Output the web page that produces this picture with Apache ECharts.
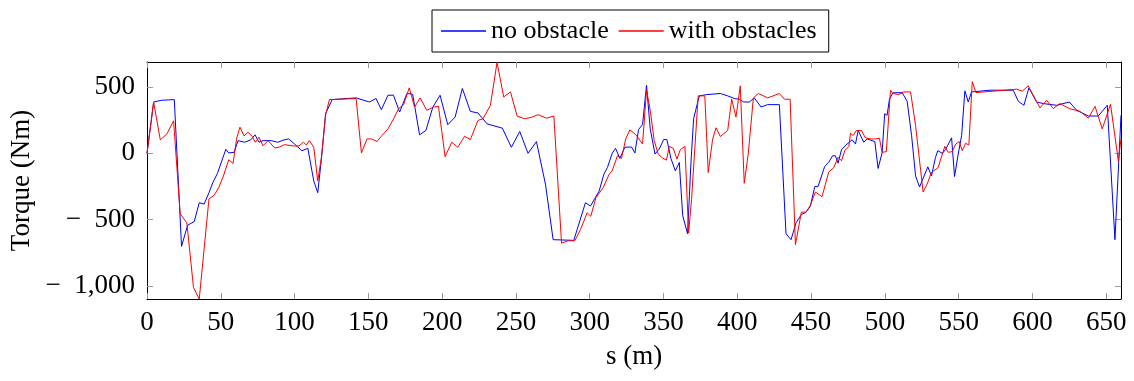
<!DOCTYPE html>
<html><head><meta charset="utf-8">
<script src="https://cdn.jsdelivr.net/npm/echarts@6/dist/echarts.min.js"></script>
<style>html,body{margin:0;padding:0;background:#fff}#c{width:1134px;height:381px}</style>
</head><body><div id="c"></div>
<script>
const xTicks = [0,50,100,150,200,250,300,350,400,450,500,550,600,650];
const yTicks = [-1000,-500,0,500];
const seriesNames = ['no obstacle','with obstacles'];

const noObstacleS = [0,4.5,10,18.5,23.4,27.5,32,35.4,38.7,42,44.8,47.7,53.4,55.4,59,61.7,66.2,70.3,73.2,75.9,78.6,84.2,88.7,92.1,95.9,100,105,109,113,115.7,118.2,121,125.5,141.7,146.9,150.7,155.2,158.8,163.3,167,171.2,173.9,176.1,180,184.7,189,193.7,198.6,203.8,208.8,213.7,219.1,224.3,230.4,240.8,246.9,252.6,258.2,263.9,270,275.2,289.2,297.1,300.5,306.4,309.6,312,315.2,317.5,320.4,323.8,328.3,330.6,333.1,335.8,338.5,341,344.2,347.1,350.1,352.3,355,358,360.7,363,366.3,368.6,370.4,374.2,379.4,388.5,393.5,398,401.4,404.3,408.2,411.5,416.1,420.5,428.5,433,436.4,439.8,443.4,446.6,449.5,452.5,454.7,459.2,461.9,464.6,466.4,468.3,470.6,474.4,477.8,480.1,481.9,485.7,488,493.2,495.4,498.1,499.9,501.5,503.1,505.4,511.7,515.1,518.1,520.8,523.5,529.1,531.6,534.3,535.9,538.9,541.1,545.2,547.2,549.5,552,554.2,556.5,558.7,571.2,587,590.4,594.2,597.6,602.8,607.3,616.4,625,630,637.9,644.6,650.7,655.9,660];
const noObstacleT = [0,388,401,406,-703,-543,-515,-373,-383,-297,-216,-152,30,3,8,96,84,102,140,84,96,96,84,99,109,71,20,38,-208,-297,-43,300,406,419,401,388,414,330,439,439,312,388,452,447,140,173,350,439,216,274,490,317,305,223,190,46,165,0,89,-233,-652,-657,-373,-398,-284,-157,-107,0,38,-38,46,48,3,180,218,515,185,-5,33,104,104,-38,-132,-69,-470,-607,-69,261,434,444,452,434,414,409,388,388,419,350,368,368,-607,-652,-525,-462,-444,-398,-251,-251,-99,-69,-18,-18,-74,28,71,102,71,173,84,109,89,-114,3,300,287,409,457,459,393,135,-170,-254,-102,-170,-30,20,0,28,117,-175,-18,135,472,388,464,477,477,393,363,495,388,376,363,388,325,282,282,363,-652,287];

const withObstaclesS = [0,4.5,9,13.5,18,22.5,27,31.5,35.4,42,45.5,48.6,51.8,55.4,58.3,60.8,63,65.8,68.5,71.2,73.4,75.9,78.6,82,86.5,90,93.2,98.9,103,106,108,110,113,115.7,118.2,121,123.6,141.7,145.3,149.1,152.1,155.9,159.2,163.3,167.1,170.5,173.9,177.7,181.3,185.1,189.6,194.2,197.5,202,206.5,210.6,215.2,219.1,224.3,227.7,232.7,237.2,241.7,246.3,250.8,256,260.5,265,270.7,275.7,280.9,285.4,289.9,293.7,298.3,300.7,304.2,309.1,313.2,315.2,318.8,321.5,324.4,327.2,328.3,331.3,335.8,338.5,341,343.7,346.4,349.4,352,353.9,356.6,359.1,361.4,364.5,367,369,373.5,378,380.3,383.3,385.6,388.5,393.5,396.2,399.1,402,404.7,407.4,410.9,414.3,420.6,428.5,431.9,435.8,439.4,443.4,446.6,449.5,452.9,457.4,462,465.4,468.3,470.6,472.8,475.6,476.7,478.5,480.7,484.1,486.8,490.2,493.6,496.3,498.1,501,503.8,505.4,509.4,512.8,517.4,520.8,525.9,528.6,531.5,536.1,540.6,542.9,545.6,548.1,550.4,552.4,554.7,556.9,559.2,561.7,587,589.2,593.1,597.1,605.1,609.6,614.1,618.6,625,632.2,637.9,642.4,647.3,652.9,658.2,660];
const withObstaclesT = [0,388,102,147,246,-457,-525,-1013,-1101,-343,-317,-259,-170,-48,-76,114,198,132,160,129,84,122,58,96,41,48,66,56,56,84,63,96,46,-208,-30,287,406,414,3,109,109,89,135,185,261,338,368,495,350,419,325,350,355,-25,84,46,129,104,249,261,363,688,426,464,282,261,272,292,266,282,-678,-660,-660,-576,-449,-475,-335,-259,-157,-132,-18,-38,109,178,193,140,71,477,325,96,-5,-36,-51,53,38,-43,28,53,-602,-348,434,434,-145,109,193,127,173,409,274,510,-226,-5,419,452,419,452,409,409,-690,-444,-444,-393,-292,-327,-140,-107,-30,-56,20,53,152,135,173,173,117,109,109,114,8,13,477,452,444,464,464,211,-292,-233,-145,-107,53,8,13,71,89,20,76,63,541,459,482,485,470,510,343,401,338,376,338,317,266,355,185,371,-56,109];

const zip = (a, b) => a.map((v, i) => [v, b[i]]);
const FONT = "'Liberation Serif','Times New Roman',serif";
const FS = 27;
const fmtY = v => {
  const a = Math.abs(v);
  const s = a >= 1000 ? Math.floor(a/1000) + ',' + String(a%1000).padStart(3,'0') : String(a);
  return (v < 0 ? '\u2212\u2002' : '') + s;
};
const tickStyle = {show:true, inside:true, length:6, lineStyle:{color:'#9a9a9a', width:1}};
const lineStyleAxis = {show:true, onZero:false, lineStyle:{color:'#000', width:1}};

const chart = echarts.init(document.getElementById('c'), null, {renderer:'canvas'});
chart.setOption({
  animation:false,
  backgroundColor:'#fff',
  grid:{left:147, right:13, top:62, bottom:82, containLabel:false, outerBoundsMode:'none'},
  legend:{
    top:10, left:432, orient:'horizontal',
    padding:[8,12,8,9], itemGap:10,
    borderColor:'#000', borderWidth:1,
    icon:'rect', itemWidth:45, itemHeight:1.5,
    textStyle:{fontFamily:FONT, fontSize:26, color:'#000'},
    data:seriesNames
  },
  xAxis:[{
    type:'value', min:0, max:660, position:'bottom',
    axisLine:lineStyleAxis,
    axisTick:Object.assign({customValues:xTicks}, tickStyle),
    axisLabel:{customValues:xTicks, margin:10, fontFamily:FONT, fontSize:FS, color:'#000'},
    splitLine:{show:false},
    name:'s (m)', nameLocation:'middle', nameGap:44, nameMoveOverlap:false,
    nameTextStyle:{fontFamily:FONT, fontSize:FS, color:'#000'}
  },{
    type:'value', min:0, max:660, position:'top',
    axisLine:lineStyleAxis,
    axisTick:Object.assign({customValues:xTicks}, tickStyle),
    axisLabel:{show:false},
    splitLine:{show:false}
  }],
  yAxis:[{
    type:'value', min:-1100, max:690, position:'left',
    axisLine:lineStyleAxis,
    axisTick:Object.assign({customValues:yTicks}, tickStyle),
    axisLabel:{customValues:yTicks, margin:12, formatter:fmtY, fontFamily:FONT, fontSize:FS, color:'#000'},
    splitLine:{show:false},
    name:'Torque (Nm)', nameLocation:'middle', nameGap:112, nameRotate:90, nameMoveOverlap:false,
    nameTextStyle:{fontFamily:FONT, fontSize:FS, color:'#000'}
  },{
    type:'value', min:-1100, max:690, position:'right',
    axisLine:lineStyleAxis,
    axisTick:Object.assign({customValues:yTicks}, tickStyle),
    axisLabel:{show:false},
    splitLine:{show:false}
  }],
  series:[{
    name:seriesNames[0], type:'line', xAxisIndex:0, yAxisIndex:0,
    data:zip(noObstacleS, noObstacleT),
    showSymbol:false, symbol:'none',
    lineStyle:{color:'#0000ff', width:1}, itemStyle:{color:'#0000ff'},
    z:3
  },{
    name:seriesNames[1], type:'line', xAxisIndex:0, yAxisIndex:0,
    data:zip(withObstaclesS, withObstaclesT),
    showSymbol:false, symbol:'none',
    lineStyle:{color:'#ff0000', width:1}, itemStyle:{color:'#ff0000'},
    z:4
  }]
});
</script>
</body></html>
